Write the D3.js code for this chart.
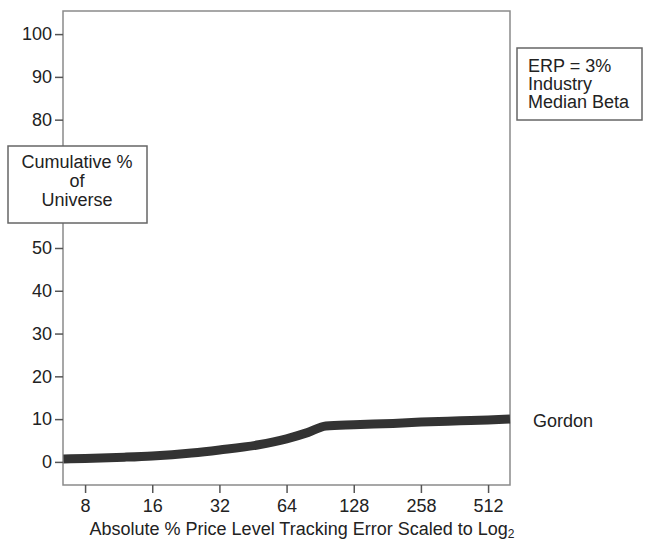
<!DOCTYPE html>
<html>
<head>
<meta charset="utf-8">
<script src="https://d3js.org/d3.v7.min.js"></script>
<style>
    body { margin: 0; background: #fff; }
    svg text { font-family: "Liberation Sans", Arial, sans-serif; fill: #222; }
</style>
</head>
<body>
<div id="chart"></div>
<script>
    // tracking error (log2 scale) vs cumulative % of universe
    var trackErr = [6.4, 8, 12, 16, 24, 32, 48, 64, 80, 96, 128, 192, 256, 384, 512, 642];
    var cumPct   = [0.7, 0.8, 1.1, 1.4, 2.1, 2.8, 4.0, 5.4, 6.9, 8.4, 8.7, 9.0, 9.3, 9.6, 9.8, 10.0];
    var xTicks = [8, 16, 32, 64, 128, 256, 512];
    var xTickLabels = ['8', '16', '32', '64', '128', '258', '512'];
    var yTicks = [0, 10, 20, 30, 40, 50, 60, 70, 80, 90, 100];
    var seriesName = 'Gordon';
    var noteLines = ['ERP = 3%', 'Industry', 'Median Beta'];
    var yTitleLines = ['Cumulative %', 'of', 'Universe'];

    var width = 645, height = 543;
    var plotL = 63, plotR = 510, plotT = 11, plotB = 485;
    var fs = '18px';

    var svg = d3.select('#chart').append('svg')
        .attr('width', width).attr('height', height);

    var x = d3.scaleLog().base(2).domain([6.37, 642]).range([plotL, plotR]);
    var y = d3.scaleLinear().domain([-5.4, 105.4]).range([plotB, plotT]);

    // frame
    svg.append('rect')
        .attr('x', plotL).attr('y', plotT)
        .attr('width', plotR - plotL).attr('height', plotB - plotT)
        .attr('fill', 'none').attr('stroke', '#8a8a8a').attr('stroke-width', 1.5);

    var yAxis = svg.append('g')
        .attr('transform', `translate(${plotL},0)`)
        .call(d3.axisLeft(y).tickValues(yTicks).tickSize(8).tickPadding(3));
    var xAxis = svg.append('g')
        .attr('transform', `translate(0,${plotB})`)
        .call(d3.axisBottom(x).tickValues(xTicks).tickSize(8).tickPadding(6)
            .tickFormat((d, i) => xTickLabels[i]));
    [yAxis, xAxis].forEach(g => {
        g.select('.domain').remove();
        g.selectAll('line').attr('stroke', '#555').attr('stroke-width', 1.5);
        g.selectAll('text').style('font-size', fs).attr('fill', '#222');
    });

    // the curve
    var line = d3.line()
        .x((d, i) => x(trackErr[i]))
        .y(d => y(d))
        .curve(d3.curveMonotoneX);
    svg.append('path')
        .datum(cumPct)
        .attr('d', line)
        .attr('fill', 'none')
        .attr('stroke', '#333')
        .attr('stroke-width', 9);

    svg.append('text')
        .attr('x', plotR + 23)
        .attr('y', y(cumPct[cumPct.length - 1]) + 8)
        .style('font-size', fs)
        .text(seriesName);

    // y title box (covers the axis)
    svg.append('rect')
        .attr('x', 8).attr('y', 146).attr('width', 139).attr('height', 77)
        .attr('fill', '#fff').attr('stroke', '#666').attr('stroke-width', 1.5);
    svg.append('g').selectAll('text').data(yTitleLines).enter().append('text')
        .attr('x', 77)
        .attr('y', (d, i) => 168 + i * 19)
        .attr('text-anchor', 'middle')
        .style('font-size', fs)
        .text(d => d);

    // note box
    svg.append('rect')
        .attr('x', 517).attr('y', 48).attr('width', 125).attr('height', 72)
        .attr('fill', '#fff').attr('stroke', '#666').attr('stroke-width', 1.5);
    svg.append('g').selectAll('text').data(noteLines).enter().append('text')
        .attr('x', 528)
        .attr('y', (d, i) => 72 + i * 18)
        .style('font-size', fs)
        .text(d => d);

    // x title with subscript
    var xt = svg.append('text')
        .attr('x', 302).attr('y', 535)
        .attr('text-anchor', 'middle')
        .style('font-size', fs);
    xt.append('tspan').text('Absolute % Price Level Tracking Error Scaled to Log');
    xt.append('tspan').attr('dy', 3).style('font-size', '12px').text('2');
</script>
</body>
</html>
